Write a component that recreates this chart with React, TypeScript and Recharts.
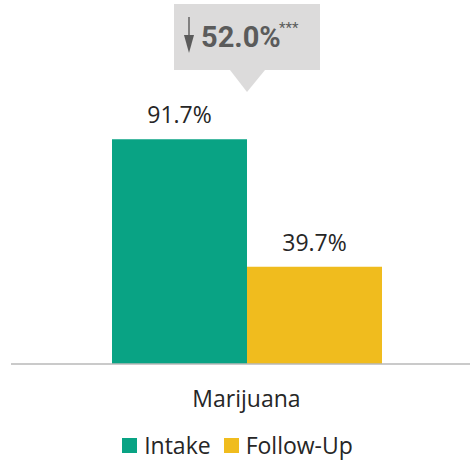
import { Bar, BarChart, LabelList, Legend, XAxis, YAxis } from 'recharts';

// Marijuana use, intake vs follow-up (%)
const categories = ['Marijuana'];
const intake = [91.7];
const followUp = [39.7];
const seriesNames = ['Intake', 'Follow-Up'];
const seriesColors = ['#09a384', '#f0bc1e'];
const significance = '***';

const FONT = '"Open Sans", "Noto Sans", sans-serif';
const TEXT = '#262626';

const data = categories.map((name, i) => ({
  name,
  [seriesNames[0]]: intake[i],
  [seriesNames[1]]: followUp[i],
}));

function ValueLabel(props: any) {
  const { x, y, width, value } = props;
  return (
    <text
      x={Number(x) + Number(width) / 2}
      y={Number(y) - 16}
      textAnchor="middle"
      fontFamily={FONT}
      fontSize={23}
      fill={TEXT}
    >
      {`${Number(value).toFixed(1)}%`}
    </text>
  );
}

// gray callout above the pair; its tip sits on the category centre (left edge of 2nd bar)
function Callout(props: any) {
  const { x, index } = props;
  if (index !== 0) return null;
  const cx = Number(x);
  const diff = (intake[0] - followUp[0]).toFixed(1);
  const top = 4;
  const w = 146;
  const h = 66;
  const left = cx - w / 2;
  return (
    <g>
      <rect x={left} y={top} width={w} height={h} fill="#dcdbdb" />
      <polygon points={`${cx - 17},${top + h} ${cx + 18},${top + h} ${cx},${top + h + 22}`} fill="#dcdbdb" />
      <line x1={left + 15} y1={top + 13} x2={left + 15} y2={top + 40} stroke="#5b5b5b" strokeWidth={1.4} />
      <polygon
        points={`${left + 10},${top + 31} ${left + 20},${top + 31} ${left + 15},${top + 49}`}
        fill="#5b5b5b"
      />
      <text
        x={left + 27}
        y={top + 43}
        fontFamily="Roboto, sans-serif"
        fontWeight={700}
        fontSize={29}
        fill="#5b5b5b"
      >
        {`${diff}%`}
      </text>
      <text x={left + 105} y={top + 29} fontFamily="Roboto, sans-serif" fontSize={15} fill="#5b5b5b">
        {significance}
      </text>
    </g>
  );
}

function LegendContent() {
  return (
    <div
      style={{
        height: 50,
        display: 'flex',
        justifyContent: 'center',
        alignItems: 'flex-end',
        fontFamily: FONT,
        fontSize: 23,
        color: TEXT,
        boxSizing: 'border-box',
      }}
    >
      <div style={{ display: 'flex', gap: 13 }}>
        {seriesNames.map((n, i) => (
          <span key={n} style={{ display: 'flex', alignItems: 'center', gap: 7 }}>
            <span style={{ width: 15, height: 15, background: seriesColors[i], display: 'inline-block' }} />
            {n}
          </span>
        ))}
      </div>
    </div>
  );
}

export default function App() {
  return (
    <div style={{ width: 470, height: 461, overflow: 'hidden', background: '#fff' }}>
      <style>{'body{margin:0}'}</style>
      <BarChart
        width={482}
        height={461}
        data={data}
        margin={{ top: 119, right: 0, bottom: 0, left: 11 }}
        barCategoryGap={101}
        barGap={0}
      >
        <XAxis
          dataKey="name"
          axisLine={{ stroke: '#b9b9b9', strokeWidth: 1.5 }}
          tickLine={false}
          tickSize={0}
          tickMargin={27}
          height={47}
          tick={{ fontFamily: FONT, fontSize: 23, fill: TEXT }}
        />
        <YAxis hide domain={[0, 100]} />
        <Legend
          verticalAlign="bottom"
          content={<LegendContent />}
          wrapperStyle={{ left: 0, width: 475, bottom: 0 }}
        />
        <Bar dataKey={seriesNames[0]} fill={seriesColors[0]} isAnimationActive={false}>
          <LabelList dataKey={seriesNames[0]} content={<ValueLabel />} />
        </Bar>
        <Bar dataKey={seriesNames[1]} fill={seriesColors[1]} isAnimationActive={false}>
          <LabelList dataKey={seriesNames[1]} content={<ValueLabel />} />
          <LabelList dataKey={seriesNames[1]} content={<Callout />} />
        </Bar>
      </BarChart>
    </div>
  );
}
